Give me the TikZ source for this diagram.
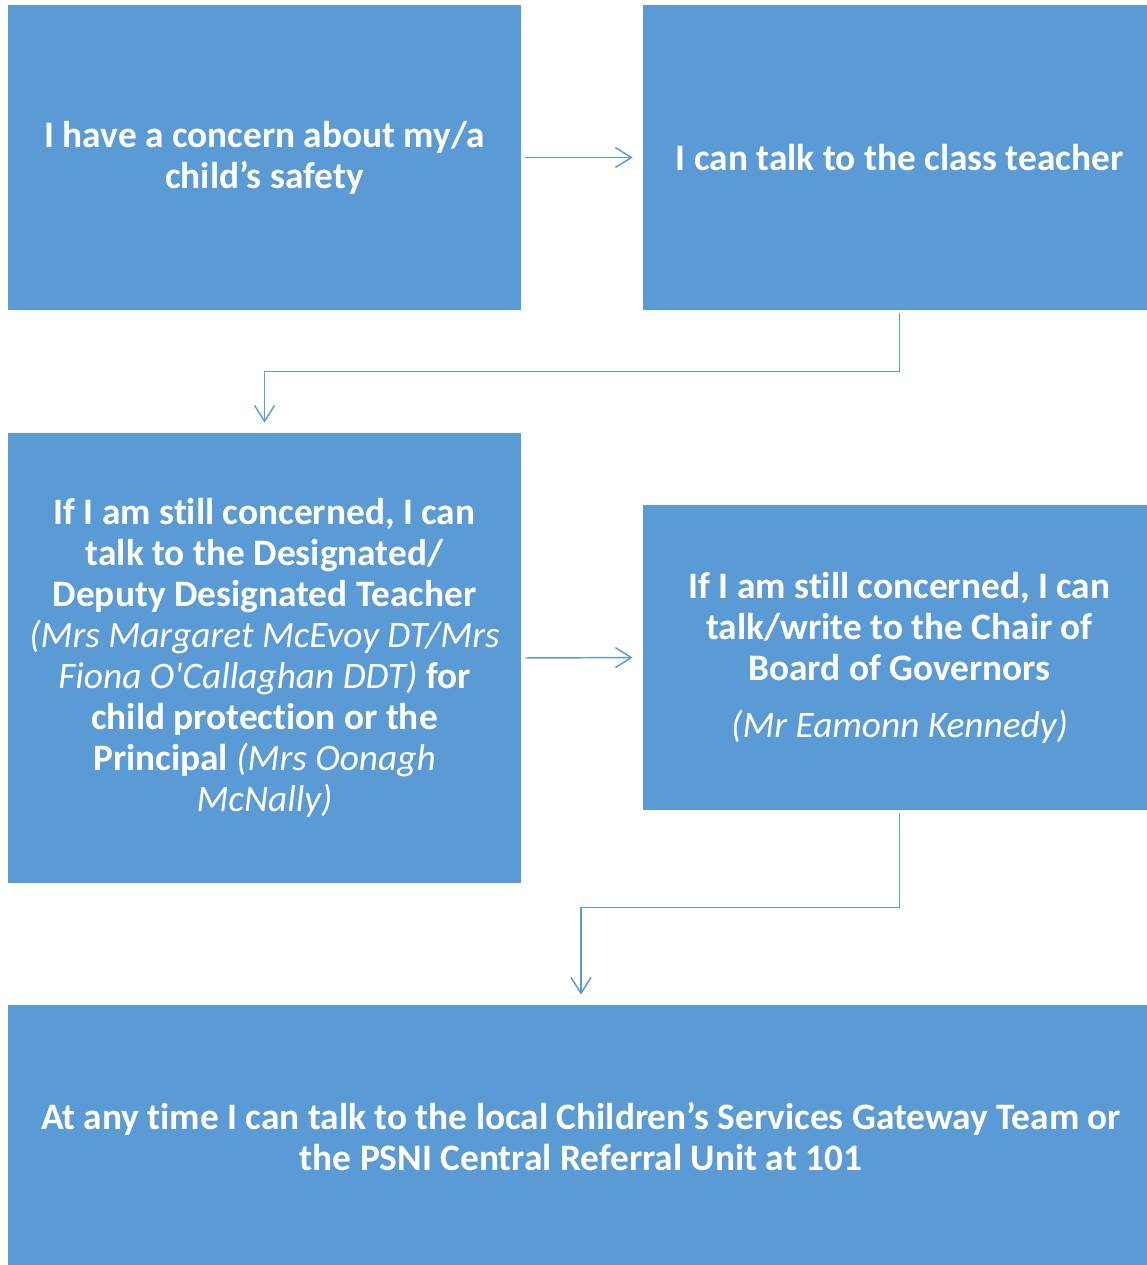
\documentclass[tikz,border=0pt]{standalone}
\usepackage{fontspec}
\setmainfont{Carlito}[Ligatures=TeXOff]
\usetikzlibrary{arrows.meta,calc}
\definecolor{boxblue}{HTML}{5B9BD5}
\newcommand{\tI}{t\kern0pt i}
\tikzset{
  box/.style={fill=boxblue, draw=none, inner sep=0pt, align=center, text=white,
    font=\fontsize{28}{30.75}\selectfont\bfseries},
  conn/.style={draw=boxblue, line width=1.1pt,
    -{Straight Barb[length=12pt,width=15pt,line width=1.1pt]}}
}
\newcommand{\itx}[1]{{\mdseries\itshape #1}}
\begin{document}
\begin{tikzpicture}[x=0.75pt,y=-0.75pt]
\clip (0,0) rectangle (1147,1265);
\node[box, minimum width=384.75pt, minimum height=228.75pt] (b1) at (264.5,157.5)
  {I have a concern about my/a\\child’s safety};
\node[box, minimum width=384.75pt, minimum height=228.75pt] (b2) at (899.5,157.5)
  {I can talk to the class teacher};
\node[box, minimum width=384.75pt, minimum height=337.5pt] (b3) at (264.5,658)
  {If I am s\tI ll concerned, I can\\talk to the Designated/\\Deputy Designated Teacher\\
   \itx{(Mrs Margaret McEvoy DT/Mrs}\\\itx{Fiona O'Callaghan DDT)} for\\
   child protec\tI on or the\\Principal \itx{(Mrs Oonagh}\\\itx{McNally)}};
\node[box, minimum width=384.75pt, minimum height=228.75pt] (b4) at (899.5,657.5)
  {If I am s\tI ll concerned, I can\\talk/write to the Chair of\\Board of Governors\\[12pt]
   \itx{(Mr Eamonn Kennedy)}};
\node[box, minimum width=859.5pt, minimum height=198pt] (b5) at (581,1137)
  {At any \tI me I can talk to the local Children’s Services Gateway Team or\\
   the PSNI Central Referral Unit at 101};
\draw[conn, shorten <=3pt, shorten >=7.5pt] (b1.east) -- (b2.west);
\draw[conn, shorten <=3pt, shorten >=7.5pt] (b3.east) -- (b4.west);
\coordinate (m1) at ($(b2.south)!0.5!(b3.north)$);
\coordinate (m2) at ($(b4.south)!0.5!(b5.north)$);
\draw[conn, shorten <=2.25pt, shorten >=7.5pt] (b2.south) |- (m1) -| (b3.north);
\draw[conn, shorten <=2.25pt, shorten >=7.5pt] (b4.south) |- (m2) -| (b5.north);
\end{tikzpicture}
\end{document}
